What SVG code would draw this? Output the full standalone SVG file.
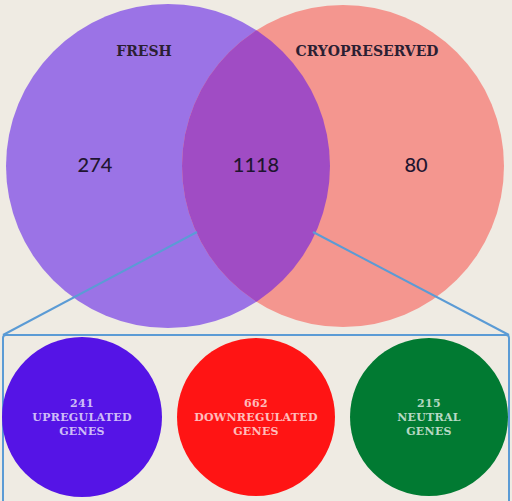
<svg xmlns="http://www.w3.org/2000/svg" width="512" height="501" viewBox="0 0 512 501">
<style>
.lbl{font-family:"DejaVu Serif","Liberation Serif",serif;font-weight:bold;fill:#2b1f33;font-size:14px;text-anchor:middle}
.num{font-family:"Lato","Open Sans",sans-serif;font-weight:500;fill:#1f1530;font-size:20px;text-anchor:middle}
.sub{font-family:"DejaVu Serif","Liberation Serif",serif;font-weight:bold;fill:#ffffff;fill-opacity:0.72;font-size:11px;letter-spacing:0.3px;text-anchor:middle}
.conn{stroke:#5b9bd5;stroke-width:2;fill:none}
</style>
<defs>
<clipPath id="clipL"><circle cx="168" cy="166" r="162"/></clipPath>
</defs>
<rect width="512" height="501" fill="#efebe3"/>
<g id="fresh">
<circle cx="168" cy="166" r="162" fill="#9b73e6"/>
</g>
<g id="cryo">
<circle cx="343" cy="166" r="161" fill="#f4968f"/>
</g>
<g id="overlap">
<circle cx="343" cy="166" r="161" fill="#a04cc4" clip-path="url(#clipL)"/>
</g>
<g id="labels">
<text class="lbl" x="144" y="56">FRESH</text>
<text class="lbl" x="367" y="56">CRYOPRESERVED</text>
<text class="num" x="95" y="172">274</text>
<text class="num" x="256" y="172">1118</text>
<text class="num" x="416" y="172">80</text>
</g>
<g id="connectors">
<line class="conn" x1="197" y1="232" x2="3" y2="335"/>
<line class="conn" x1="313" y1="232" x2="509" y2="335"/>
<rect class="conn" x="3" y="335" width="506" height="180" rx="3"/>
</g>
<g id="up">
<circle cx="82" cy="417" r="80" fill="#5514e6"/>
<text class="sub" x="82" y="407">241</text>
<text class="sub" x="82" y="421">UPREGULATED</text>
<text class="sub" x="82" y="435">GENES</text>
</g>
<g id="down">
<circle cx="256" cy="417" r="79" fill="#ff1414"/>
<text class="sub" x="256" y="407">662</text>
<text class="sub" x="256" y="421">DOWNREGULATED</text>
<text class="sub" x="256" y="435">GENES</text>
</g>
<g id="neutral">
<circle cx="429" cy="417" r="79" fill="#017a32"/>
<text class="sub" x="429" y="407">215</text>
<text class="sub" x="429" y="421">NEUTRAL</text>
<text class="sub" x="429" y="435">GENES</text>
</g>
</svg>
